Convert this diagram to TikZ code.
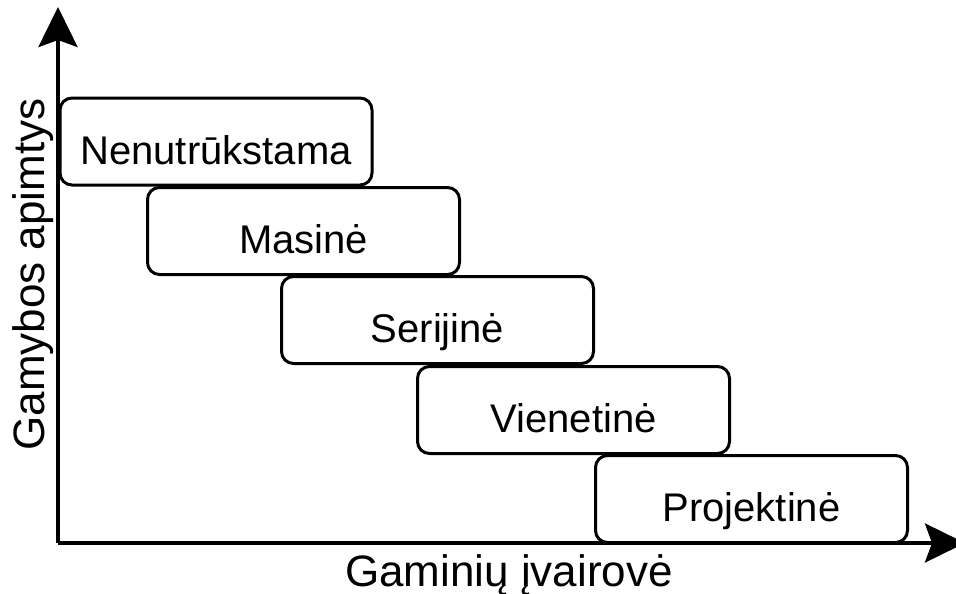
\documentclass[tikz,border=0pt]{standalone}
\usepackage{fontspec}
\setmainfont{Liberation Sans}
\usetikzlibrary{arrows.meta}

\tikzset{
  axisline/.style={line width=4pt, -{Stealth[length=40pt, width=39pt, inset=7pt]}},
  levelbox/.style={draw, line width=3pt, fill=white, rounded corners=12pt,
    inner sep=0pt, minimum width=312pt, text height=66pt, text depth=21pt,
    align=center, font=\fontsize{40}{48}\selectfont},
  axislabel/.style={inner sep=0pt, anchor=base, font=\fontsize{44}{52}\selectfont}
}

\begin{document}
\begin{tikzpicture}[x=1pt, y=-1pt]
  \useasboundingbox (0,0) rectangle (956,594);

  % axes
  \coordinate (origin) at (58,543);
  \coordinate (ytip) at (58,7);
  \coordinate (xtip) at (965,543);
  \draw[axisline] (origin) -- (ytip);
  \draw[axisline] (origin) -- (xtip);

  % production types, stepping down and to the right
  \node[levelbox] (b1) at (216,141.5) {Nenutrūkstama};
  \node[levelbox] (b2) at (303.5,231) {Masinė};
  \node[levelbox] (b3) at (437.5,320) {Serijinė};
  \node[levelbox] (b4) at (573.5,410) {Vienetinė};
  \node[levelbox] (b5) at (751.5,499) {Projektinė};

  % axis titles
  \node[axislabel] (xlabel) at (509,586) {Gaminių įvairovė};
  \node[axislabel, rotate=90] (ylabel) at (44,274.5) {Gamybos apimtys};
\end{tikzpicture}
\end{document}
